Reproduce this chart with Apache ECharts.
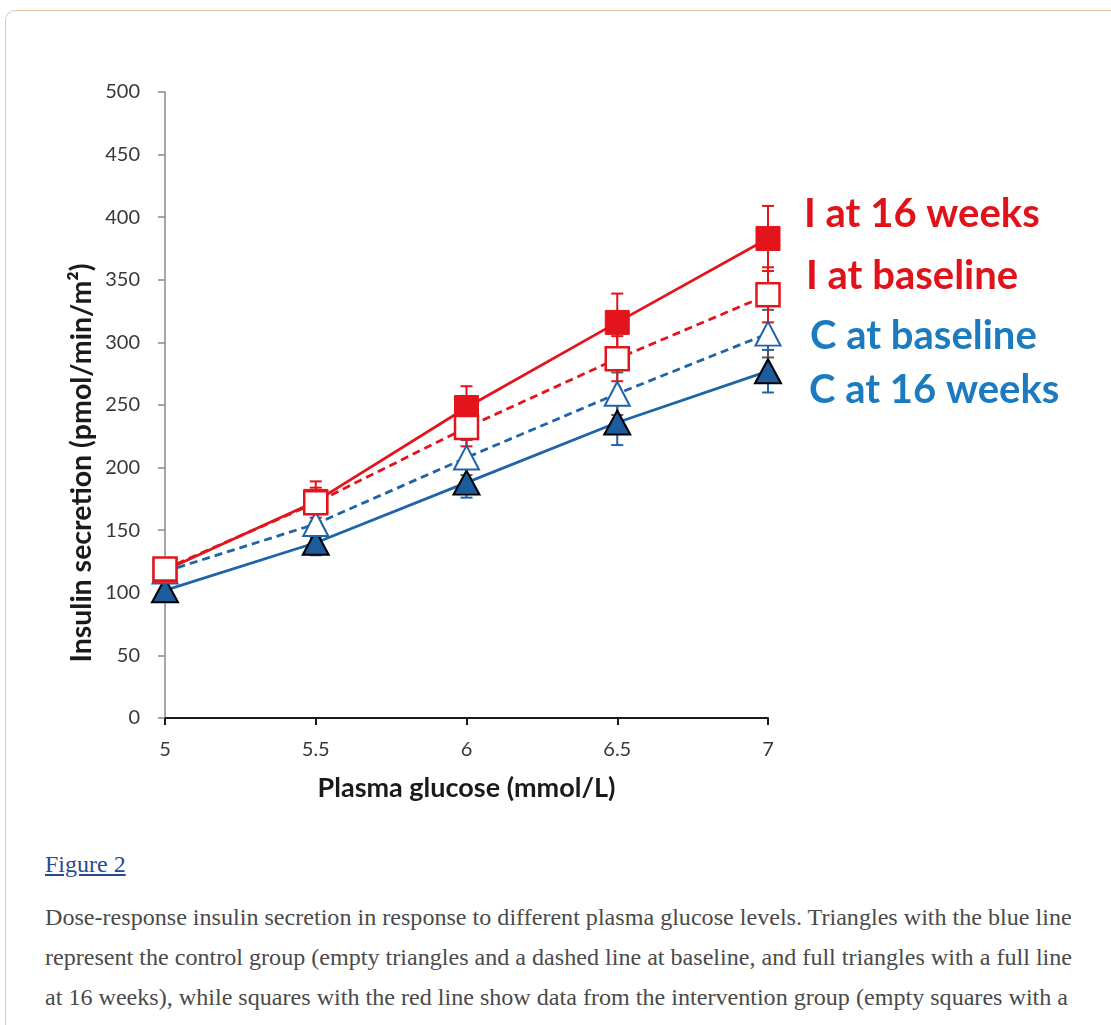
<!DOCTYPE html>
<html>
<head>
<meta charset="utf-8">
<script src="https://cdn.jsdelivr.net/npm/echarts@6/dist/echarts.min.js"></script>
<style>
  html, body { margin:0; padding:0; background:#fff; width:1111px; height:1025px; overflow:hidden; }
  #frame { position:absolute; left:5px; top:10px; width:1200px; height:1100px; border:1.5px solid #E9C3A6; border-radius:10px; box-sizing:border-box; }
  #chart { position:absolute; left:0; top:0; width:1111px; height:840px; }
  #figlink { position:absolute; left:45px; top:851px; font-family:"Liberation Serif", "Times New Roman", serif; font-size:24px; color:#2A4A8E; text-decoration:underline; }
  #caption { position:absolute; left:45px; top:897px; font-family:"Liberation Serif", "Times New Roman", serif; font-size:24.1px; line-height:40px; color:#4a4a4a; white-space:nowrap; }
</style>
</head>
<body>
<div id="frame"></div>
<div id="chart"></div>
<div id="figlink">Figure 2</div>
<div id="caption">Dose-response insulin secretion in response to different plasma glucose levels. Triangles with the blue line<br>represent the control group (empty triangles and a dashed line at baseline, and full triangles with a full line<br>at 16 weeks), while squares with the red line show data from the intervention group (empty squares with a</div>
<script>
// Data
const glucose = [5, 5.5, 6, 6.5, 7];
const I16w = [118, 173, 248, 316, 383];
const I16wErr = [8, 16, 17, 23, 26];
const Ibase = [119, 172, 232, 287, 338];
const IbaseErr = [8, 12, 15, 18, 22];
const Cbase = [117, 155, 208, 259, 307];
const CbaseErr = [8, 11, 14, 17, 19];
const C16w = [102, 140, 188, 236, 277];
const C16wErr = [6, 10, 12, 18, 17];
const seriesNames = ['I at 16 weeks', 'I at baseline', 'C at baseline', 'C at 16 weeks'];

const RED = '#E3141C';
const BLUE = '#1F64A8';
const BLUE_FILL = '#1D5C9C';
const LEG_RED = '#E0121A';
const LEG_BLUE = '#1C7BC0';

function pairs(vals){ return glucose.map((x,i)=>[x, vals[i]]); }
function errSeries(vals, errs, color, z){
  return {
    type:'custom', z:z, silent:true,
    data: glucose.map((x,i)=>[x, vals[i]-errs[i], vals[i]+errs[i]]),
    encode:{x:0, y:[1,2]},
    renderItem:function(params, api){
      const x = api.value(0);
      const lo = api.coord([x, api.value(1)]);
      const hi = api.coord([x, api.value(2)]);
      const w = 6;
      const st = {stroke:color, lineWidth:2};
      return {type:'group', children:[
        {type:'line', shape:{x1:lo[0], y1:lo[1], x2:hi[0], y2:hi[1]}, style:st},
        {type:'line', shape:{x1:lo[0]-w, y1:lo[1], x2:lo[0]+w, y2:lo[1]}, style:st},
        {type:'line', shape:{x1:hi[0]-w, y1:hi[1], x2:hi[0]+w, y2:hi[1]}, style:st}
      ]};
    }
  };
}

const chart = echarts.init(document.getElementById('chart'), null, {renderer:'canvas'});
const legendY = [214, 276, 336, 390];
const legendColors = [LEG_RED, LEG_RED, LEG_BLUE, LEG_BLUE];
const legendX = [804, 806, 810, 809];

chart.setOption({
  animation:false,
  backgroundColor:'transparent',
  grid:{left:165, right:343, top:92, bottom:122, containLabel:false},
  xAxis:{
    type:'value', min:5, max:7, interval:0.5,
    name:'Plasma glucose (mmol/L)', nameLocation:'middle', nameGap:57,
    nameTextStyle:{fontFamily:'Lato', fontWeight:'bold', fontSize:27, color:'#1a1a1a'},
    axisLine:{show:true, lineStyle:{color:'#1a1a1a', width:2}},
    axisTick:{show:true, inside:false, length:7, lineStyle:{color:'#1a1a1a', width:2}},
    axisLabel:{color:'#383838', fontFamily:'Lato', fontSize:20, margin:22},
    splitLine:{show:false}
  },
  yAxis:{
    type:'value', min:0, max:500, interval:50,
    axisLine:{show:true, lineStyle:{color:'#8a8a8a', width:1.5}},
    axisTick:{show:true, inside:false, length:7, lineStyle:{color:'#8a8a8a', width:1.5}},
    axisLabel:{color:'#383838', fontFamily:'Lato', fontSize:20, margin:25},
    splitLine:{show:false}
  },
  graphic:[
    {type:'text', x:82, y:463, rotation:Math.PI/2, style:{text:'Insulin secretion (pmol/min/m²)', fontFamily:'Lato', fontWeight:'bold', fontSize:28.5, fill:'#1a1a1a', align:'center', verticalAlign:'middle'}}
  ].concat(seriesNames.map((n,i)=>({type:'text', x:legendX[i], y:legendY[i], style:{text:n, fontFamily:'Lato', fontWeight:'bold', fontSize:40, fill:legendColors[i], align:'left', verticalAlign:'middle'}}))),
  series:[
    errSeries(C16w, C16wErr, BLUE, 1),
    errSeries(Cbase, CbaseErr, '#5a5a5a', 1),
    errSeries(I16w, I16wErr, RED, 1),
    errSeries(Ibase, IbaseErr, RED, 1),
    {name:seriesNames[3], type:'line', z:3, data:pairs(C16w), symbol:'triangle', symbolSize:[26,24],
     lineStyle:{color:BLUE, width:2.8}, itemStyle:{color:BLUE_FILL, borderColor:'#000', borderWidth:2}},
    {name:seriesNames[2], type:'line', z:4, data:pairs(Cbase), symbol:'triangle', symbolSize:[25,24],
     lineStyle:{color:BLUE, width:2.8, type:[8,5]}, itemStyle:{color:'#fff', borderColor:BLUE, borderWidth:2}},
    {name:seriesNames[0], type:'line', z:5, data:pairs(I16w), symbol:'rect', symbolSize:24,
     lineStyle:{color:RED, width:2.8}, itemStyle:{color:RED, borderColor:RED, borderWidth:1}},
    {name:seriesNames[1], type:'line', z:6, data:pairs(Ibase), symbol:'rect', symbolSize:23,
     lineStyle:{color:RED, width:2.8, type:[8,5]}, itemStyle:{color:'#fff', borderColor:RED, borderWidth:2.5}}
  ]
});
</script>
</body>
</html>
